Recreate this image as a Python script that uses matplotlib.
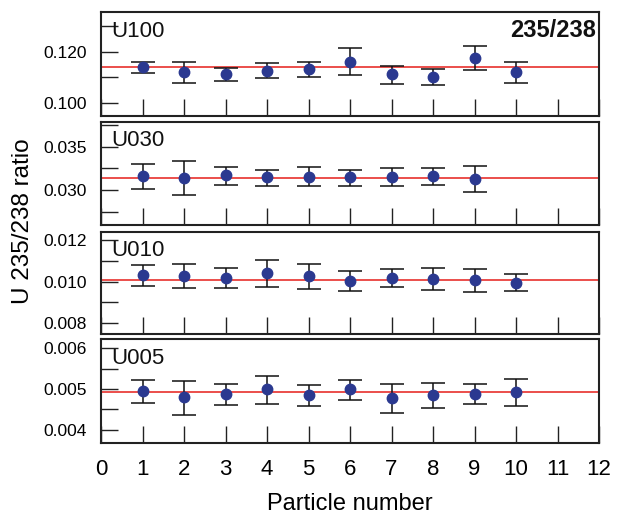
import numpy as np
import matplotlib
matplotlib.use('Agg')
import matplotlib.pyplot as plt
from matplotlib.ticker import FormatStrFormatter, MultipleLocator

plt.rcParams['font.family'] = ['Liberation Sans', 'DejaVu Sans']

# data
particles = np.arange(1, 11)
names = ['U100', 'U030', 'U010', 'U005']

u100 = [0.1141, 0.1120, 0.1113, 0.1125, 0.1133, 0.1161, 0.1113, 0.1102, 0.1175, 0.1120]
u100_hi = [0.1161, 0.1158, 0.1137, 0.1154, 0.1161, 0.1212, 0.1146, 0.1131, 0.1221, 0.1161]
u100_lo = [0.1118, 0.1079, 0.1087, 0.1096, 0.1100, 0.1110, 0.1076, 0.1070, 0.1128, 0.1080]

u030 = [0.03160, 0.03144, 0.03172, 0.03148, 0.03155, 0.03152, 0.03155, 0.03160, 0.03132]
u030_hi = [0.03296, 0.03335, 0.03261, 0.03237, 0.03261, 0.03237, 0.03254, 0.03254, 0.03277]
u030_lo = [0.03012, 0.02942, 0.03062, 0.03050, 0.03043, 0.03050, 0.03047, 0.03058, 0.02977]

u010 = [0.01032, 0.01029, 0.01019, 0.01041, 0.01026, 0.01005, 0.01018, 0.01013, 0.01007, 0.00995]
u010_hi = [0.01082, 0.01086, 0.01066, 0.01106, 0.01084, 0.01053, 0.01060, 0.01065, 0.01061, 0.01037]
u010_lo = [0.00978, 0.00968, 0.00970, 0.00974, 0.00963, 0.00957, 0.00974, 0.00958, 0.00950, 0.00954]

u005 = [0.004958, 0.004795, 0.004877, 0.004993, 0.004845, 0.005000, 0.004771, 0.004845, 0.004885, 0.004934]
u005_hi = [0.005221, 0.005204, 0.005123, 0.005319, 0.005106, 0.005229, 0.005123, 0.005140, 0.005115, 0.005253]
u005_lo = [0.004656, 0.004369, 0.004607, 0.004624, 0.004574, 0.004737, 0.004418, 0.004533, 0.004639, 0.004590]

# certified (reference) ratios, red lines
ref_values = [0.1141, 0.03144, 0.01010, 0.004926]

values = [u100, u030, u010, u005]
highs = [u100_hi, u030_hi, u010_hi, u005_hi]
lows = [u100_lo, u030_lo, u010_lo, u005_lo]

ylims = [(0.0951, 0.1353), (0.02595, 0.0379), (0.00749, 0.01242), (0.003666, 0.006229)]
major_steps = [0.02, 0.005, 0.002, 0.001]
minor_steps = [0.01, 0.0025, 0.001, 0.0005]

fig = plt.figure(figsize=(6.21, 5.16), dpi=100)
W, H = 621.0, 516.0
left, right = 101 / W, 599 / W
panel_px = [(12, 116), (121.7, 225), (231.7, 333.7), (339, 443.3)]

axes = []
for i in range(4):
    top, bot = panel_px[i]
    ax = fig.add_axes([left, 1 - bot / H, right - left, (bot - top) / H])
    axes.append(ax)

    v = np.array(values[i])
    hi = np.array(highs[i])
    lo = np.array(lows[i])
    x = particles[:len(v)]

    ax.axhline(ref_values[i], color='#e8302c', lw=1.2, zorder=1)
    ax.errorbar(x, v, yerr=[v - lo, hi - v], fmt='o', color='#2b3990',
                markersize=7.5, ecolor='#111111', elinewidth=1.1,
                capsize=8.5, capthick=1.1, zorder=3)

    ax.set_xlim(0, 12)
    ax.set_ylim(*ylims[i])
    ax.xaxis.set_major_locator(MultipleLocator(1))
    ax.yaxis.set_major_locator(MultipleLocator(major_steps[i]))
    ax.yaxis.set_minor_locator(MultipleLocator(minor_steps[i]))
    ax.yaxis.set_major_formatter(FormatStrFormatter('%.3f'))

    ax.tick_params(axis='x', which='both', direction='in', length=12, width=1.0,
                   labelsize=16, pad=11, color='#222222')
    ax.tick_params(axis='y', which='both', direction='in', length=12, width=1.0,
                   labelsize=12.5, pad=10, color='#222222')
    if i < 3:
        ax.tick_params(axis='x', labelbottom=False)

    for s in ax.spines.values():
        s.set_linewidth(1.5)
        s.set_color('#222222')

    ax.text(0.02, 0.915, names[i], transform=ax.transAxes, ha='left', va='top',
            fontsize=16, color='#111111')

axes[0].text(0.993, 0.93, '235/238', transform=axes[0].transAxes, ha='right',
             va='top', fontsize=17, fontweight='bold', color='#111111')

fig.text((left + right) / 2, 1.5 / H, 'Particle number', ha='center', va='bottom',
         fontsize=17)
fig.text(0.037, 0.572, 'U 235/238 ratio', rotation=90, ha='center', va='center',
         fontsize=17.5)

fig.savefig('out.png', dpi=100)
